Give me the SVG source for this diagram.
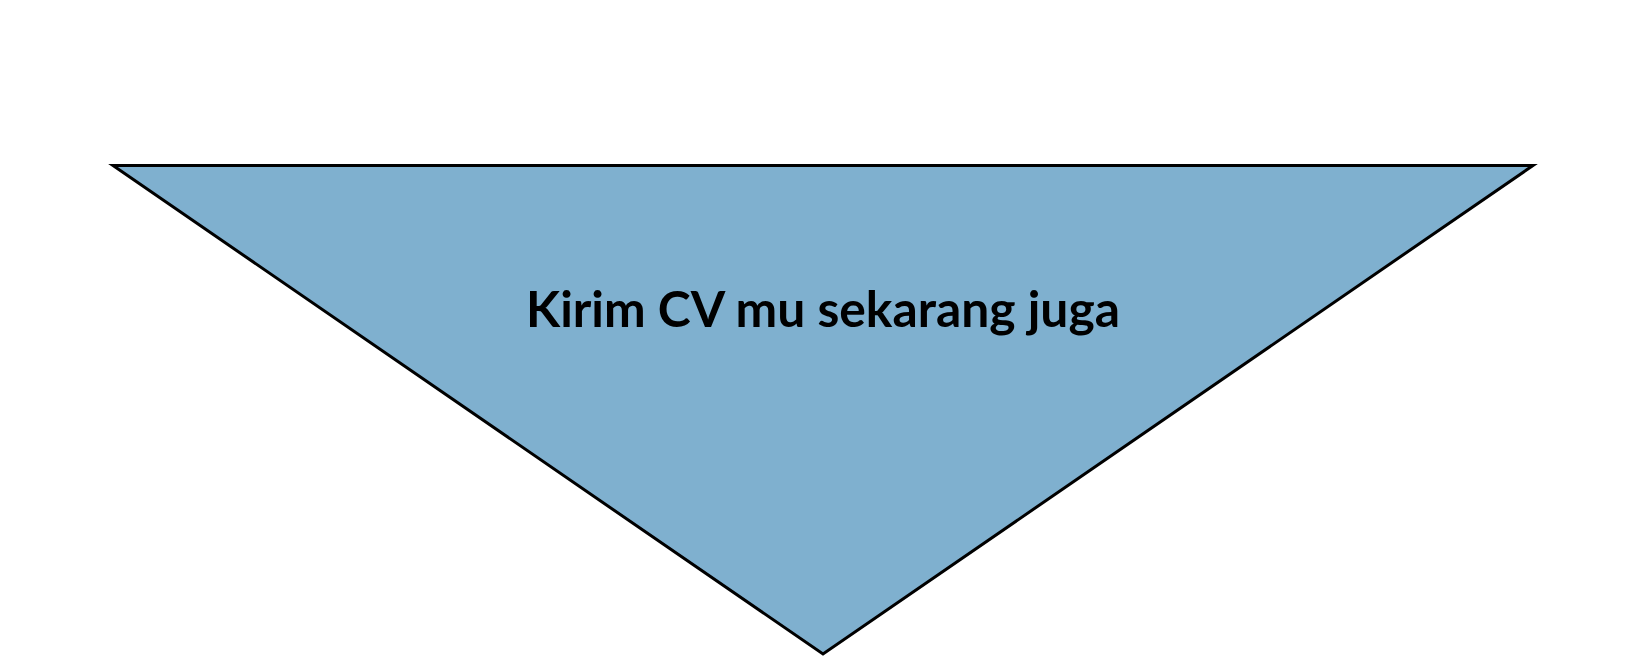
<svg xmlns="http://www.w3.org/2000/svg" width="1647" height="657" viewBox="0 0 1647 657">
<style>
.shape{fill:#7fb0cf;stroke:#000;stroke-width:3}
.label{font-family:"Lato","Liberation Sans",sans-serif;font-weight:bold;font-size:49px;fill:#000}
</style>
<rect width="1647" height="657" fill="#fff"/>
<g id="node-triangle">
<polygon class="shape" points="113,165.5 1533,165.5 823,654"/>
<text class="label" x="823" y="327" text-anchor="middle" textLength="594" lengthAdjust="spacingAndGlyphs">Kirim CV mu sekarang juga</text>
</g>
<g id="connectors"/>
</svg>
